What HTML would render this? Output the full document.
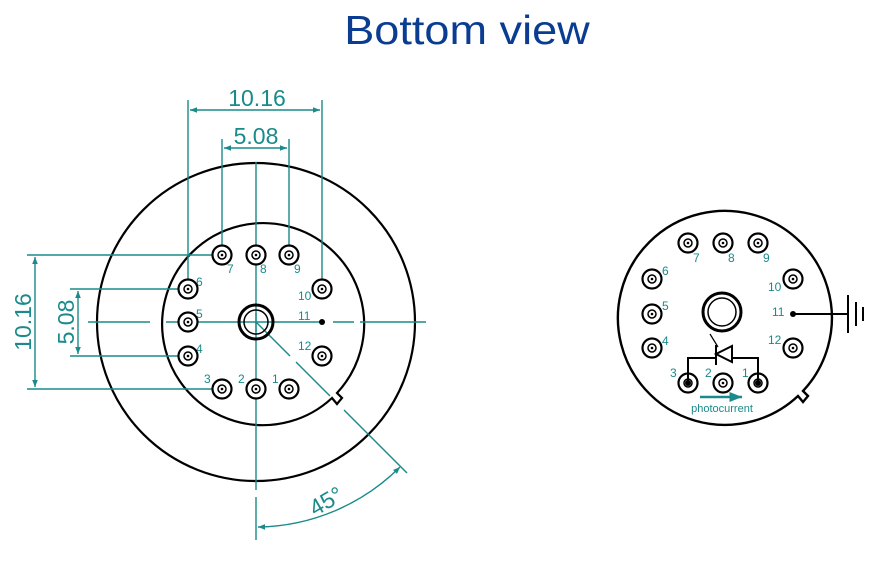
<!DOCTYPE html>
<html><head><meta charset="utf-8"><style>
html,body{margin:0;padding:0;background:#fff;width:892px;height:567px;overflow:hidden}
svg{display:block}
text{font-family:"Liberation Sans",sans-serif}
</style></head><body>
<svg width="892" height="567" viewBox="0 0 892 567" xmlns="http://www.w3.org/2000/svg">
<defs>
<marker id="ar" viewBox="0 0 10 10" refX="10" refY="5" markerWidth="7" markerHeight="5" orient="auto-start-reverse"><path d="M0,1 L10,5 L0,9z" fill="#1a8a8a"/></marker>
<g id="pin"><circle r="9.5" fill="#fff" stroke="#000" stroke-width="2.2"/><circle r="4" fill="none" stroke="#000" stroke-width="1.5"/><circle r="1.3" fill="#000"/></g>
</defs>
<text x="467" y="44" text-anchor="middle" font-size="41" fill="#0a3d91" transform="translate(467,0) scale(1.1,1) translate(-467,0)">Bottom view</text>

<!-- LEFT -->
<g fill="none" stroke="#000" stroke-width="2.2">
<circle cx="256" cy="322" r="159"/>
<path d="M332,398 A101,101 0 1 1 337,393 L342,398 L337,404 L332,398 Z" fill="#fff"/>
</g>
<g stroke="#1a8a8a" stroke-width="1.4" fill="none">
<line x1="256" y1="162" x2="256" y2="490"/>
<line x1="256" y1="497" x2="256" y2="540"/>
<line x1="88" y1="322" x2="150" y2="322"/>
<line x1="166" y1="322" x2="325" y2="322"/>
<line x1="333" y1="322" x2="354" y2="322"/>
<line x1="360" y1="322" x2="426" y2="322"/>
<line x1="256" y1="322" x2="290" y2="356"/>
<line x1="296" y1="362" x2="330" y2="396"/>
<line x1="344" y1="410" x2="407" y2="473"/>
<line x1="188" y1="100" x2="188" y2="289"/>
<line x1="322" y1="100" x2="322" y2="289"/>
<line x1="222" y1="139" x2="222" y2="255"/>
<line x1="289" y1="139" x2="289" y2="255"/>
<line x1="190" y1="110" x2="320" y2="110" marker-start="url(#ar)" marker-end="url(#ar)"/>
<line x1="224" y1="148" x2="287" y2="148" marker-start="url(#ar)" marker-end="url(#ar)"/>
<line x1="27" y1="255" x2="222" y2="255"/>
<line x1="27" y1="389" x2="222" y2="389"/>
<line x1="70" y1="289" x2="188" y2="289"/>
<line x1="70" y1="356" x2="188" y2="356"/>
<line x1="35" y1="257" x2="35" y2="387" marker-start="url(#ar)" marker-end="url(#ar)"/>
<line x1="78" y1="291" x2="78" y2="354" marker-start="url(#ar)" marker-end="url(#ar)"/>
<path d="M258,527 A205,205 0 0 0 400,467" marker-start="url(#ar)" marker-end="url(#ar)"/>
</g>
<g fill="#1a8a8a">
<text x="257" y="106" text-anchor="middle" font-size="23">10.16</text>
<text x="256" y="144" text-anchor="middle" font-size="23">5.08</text>
<text transform="translate(31,322) rotate(-90)" text-anchor="middle" font-size="23">10.16</text>
<text transform="translate(74,322) rotate(-90)" text-anchor="middle" font-size="23">5.08</text>
<text transform="translate(330,508) rotate(-30)" text-anchor="middle" font-size="23">45°</text>
<g font-size="12">
<text x="227" y="273">7</text><text x="260" y="273">8</text><text x="294" y="273">9</text>
<text x="196" y="286">6</text><text x="196" y="318">5</text><text x="196" y="353">4</text>
<text x="298" y="300">10</text><text x="298" y="320">11</text><text x="298" y="350">12</text>
<text x="204" y="383">3</text><text x="238" y="383">2</text><text x="272" y="383">1</text>
</g></g>
<circle cx="256" cy="322" r="17" fill="none" stroke="#000" stroke-width="3"/>
<circle cx="256" cy="322" r="12" fill="none" stroke="#000" stroke-width="1.5"/>
<use href="#pin" x="222" y="255"/><use href="#pin" x="256" y="255"/><use href="#pin" x="289" y="255"/>
<use href="#pin" x="188" y="289"/><use href="#pin" x="188" y="322"/><use href="#pin" x="188" y="356"/>
<use href="#pin" x="322" y="289"/><use href="#pin" x="322" y="356"/>
<use href="#pin" x="222" y="389"/><use href="#pin" x="256" y="389"/><use href="#pin" x="289" y="389"/>
<circle cx="322" cy="322" r="3" fill="#000"/>
<line x1="256" y1="313" x2="256" y2="332" stroke="#1a8a8a" stroke-width="1.4"/>

<!-- RIGHT -->
<path d="M798,396 A107,107 0 1 1 803,391 L808,396 L803,402 L798,396 Z" fill="#fff" stroke="#000" stroke-width="2.4"/>
<circle cx="722" cy="312" r="19" fill="none" stroke="#000" stroke-width="3"/>
<circle cx="722" cy="312" r="14" fill="none" stroke="#000" stroke-width="1.5"/>
<use href="#pin" x="688" y="243"/><use href="#pin" x="723" y="243"/><use href="#pin" x="758" y="243"/>
<use href="#pin" x="652" y="279"/><use href="#pin" x="652" y="314"/><use href="#pin" x="652" y="348"/>
<use href="#pin" x="793" y="279"/><use href="#pin" x="793" y="348"/>
<use href="#pin" x="688" y="383"/><use href="#pin" x="723" y="383"/><use href="#pin" x="758" y="383"/>
<g stroke="#000" stroke-width="2" fill="none">
<line x1="793" y1="314" x2="848" y2="314"/>
<line x1="848" y1="295" x2="848" y2="333"/>
<line x1="856" y1="302" x2="856" y2="326"/>
<line x1="863" y1="307" x2="863" y2="321"/>
<polyline points="688,383 688,358 716,358"/>
<polyline points="732,358 758,358 758,383"/>
<polygon points="716,354 732,346 732,362"/>
<line x1="716" y1="345" x2="716" y2="365"/>
<line x1="710" y1="334" x2="718" y2="347" stroke-width="1.2"/>
</g>
<circle cx="793" cy="314" r="3" fill="#000"/>
<circle cx="688" cy="383" r="3" fill="#000"/><circle cx="758" cy="383" r="3" fill="#000"/>
<line x1="700" y1="397" x2="742" y2="397" stroke="#1a8a8a" stroke-width="2.5" marker-end="url(#ar)"/>
<g fill="#1a8a8a" font-size="12">
<text x="693" y="262">7</text><text x="728" y="262">8</text><text x="763" y="262">9</text>
<text x="662" y="275">6</text><text x="662" y="310">5</text><text x="662" y="345">4</text>
<text x="768" y="291">10</text><text x="772" y="316">11</text><text x="768" y="344">12</text>
<text x="670" y="377">3</text><text x="705" y="377">2</text><text x="742" y="377">1</text>
<text x="722" y="412" text-anchor="middle" font-size="11">photocurrent</text>
</g>
</svg>
</body></html>
